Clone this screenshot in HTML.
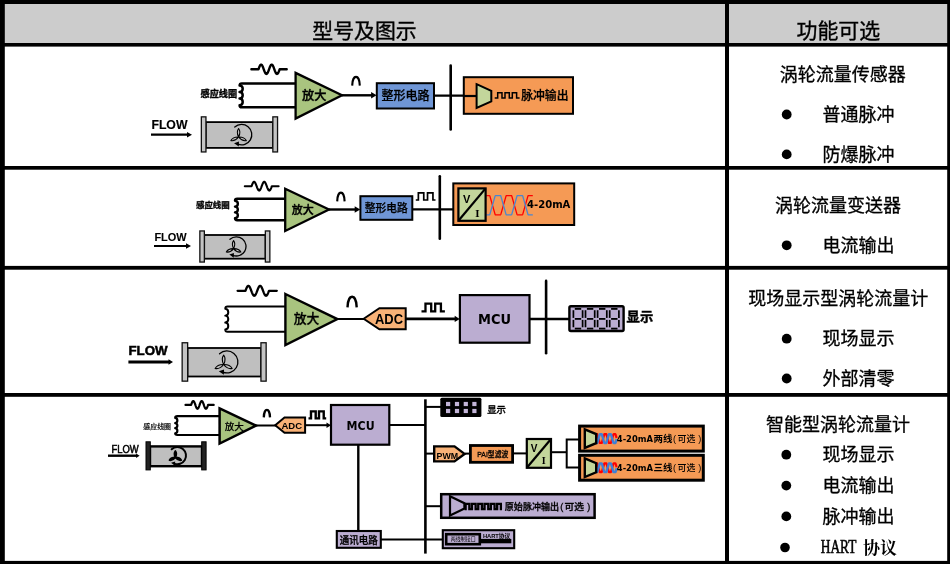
<!DOCTYPE html>
<html lang="zh-CN">
<head>
<meta charset="utf-8">
<title>涡轮流量计 型号及图示</title>
<style>
html,body{margin:0;padding:0;background:#fff;}
body{width:950px;height:564px;overflow:hidden;font-family:"Liberation Sans","Noto Sans CJK SC",sans-serif;}
svg{display:block;will-change:transform;}
</style>
</head>
<body>
<svg width="950" height="564" viewBox="0 0 950 564">
<rect x="0" y="0" width="950" height="564" fill="#fff"/>
<rect x="3" y="3" width="945" height="41" fill="#cccccc"/>
<rect x="0" y="0" width="950" height="4" fill="#000"/>
<rect x="0" y="43" width="950" height="3.6" fill="#000"/>
<rect x="0" y="166" width="950" height="3.7" fill="#000"/>
<rect x="0" y="265.9" width="950" height="3.8" fill="#000"/>
<rect x="0" y="393" width="950" height="3.8" fill="#000"/>
<rect x="0" y="560.9" width="950" height="3.1" fill="#000"/>
<rect x="0" y="0" width="4.8" height="564" fill="#000"/>
<rect x="725" y="0" width="4" height="564" fill="#000"/>
<rect x="947.2" y="0" width="2.8" height="564" fill="#000"/>
<text x="364.5" y="38.2" font-size="20.9" font-weight="normal" text-anchor="middle" font-family='"Liberation Sans","Noto Sans CJK SC",sans-serif' fill="#000" stroke="#000" stroke-width="0.35">型号及图示</text>
<text x="838.3" y="38.2" font-size="20.9" font-weight="normal" text-anchor="middle" font-family='"Liberation Sans","Noto Sans CJK SC",sans-serif' fill="#000" stroke="#000" stroke-width="0.35">功能可选</text>
<text x="842.8" y="81" font-size="18" font-weight="normal" text-anchor="middle" font-family='"Liberation Sans","Noto Sans CJK SC",sans-serif' fill="#000" stroke="#000" stroke-width="0.3">涡轮流量传感器</text>
<circle cx="786.7" cy="114.5" r="4.9" fill="#000"/>
<text x="822.5" y="120.9" font-size="18" font-weight="normal" text-anchor="start" font-family='"Liberation Sans","Noto Sans CJK SC",sans-serif' fill="#000" stroke="#000" stroke-width="0.3">普通脉冲</text>
<circle cx="786.7" cy="154.4" r="4.9" fill="#000"/>
<text x="822.5" y="160.8" font-size="18" font-weight="normal" text-anchor="start" font-family='"Liberation Sans","Noto Sans CJK SC",sans-serif' fill="#000" stroke="#000" stroke-width="0.3">防爆脉冲</text>
<text x="838" y="211.7" font-size="18" font-weight="normal" text-anchor="middle" font-family='"Liberation Sans","Noto Sans CJK SC",sans-serif' fill="#000" stroke="#000" stroke-width="0.3">涡轮流量变送器</text>
<circle cx="786.7" cy="245.3" r="4.9" fill="#000"/>
<text x="822.5" y="251.70000000000002" font-size="18" font-weight="normal" text-anchor="start" font-family='"Liberation Sans","Noto Sans CJK SC",sans-serif' fill="#000" stroke="#000" stroke-width="0.3">电流输出</text>
<text x="838.3" y="305" font-size="18" font-weight="normal" text-anchor="middle" font-family='"Liberation Sans","Noto Sans CJK SC",sans-serif' fill="#000" stroke="#000" stroke-width="0.3">现场显示型涡轮流量计</text>
<circle cx="786.7" cy="338.7" r="4.9" fill="#000"/>
<text x="822.5" y="345.09999999999997" font-size="18" font-weight="normal" text-anchor="start" font-family='"Liberation Sans","Noto Sans CJK SC",sans-serif' fill="#000" stroke="#000" stroke-width="0.3">现场显示</text>
<circle cx="786.7" cy="378.5" r="4.9" fill="#000"/>
<text x="822.5" y="384.9" font-size="18" font-weight="normal" text-anchor="start" font-family='"Liberation Sans","Noto Sans CJK SC",sans-serif' fill="#000" stroke="#000" stroke-width="0.3">外部清零</text>
<text x="838" y="430.7" font-size="18" font-weight="normal" text-anchor="middle" font-family='"Liberation Sans","Noto Sans CJK SC",sans-serif' fill="#000" stroke="#000" stroke-width="0.3">智能型涡轮流量计</text>
<circle cx="786.3" cy="454.7" r="4.9" fill="#000"/>
<text x="822.5" y="461.09999999999997" font-size="18" font-weight="normal" text-anchor="start" font-family='"Liberation Sans","Noto Sans CJK SC",sans-serif' fill="#000" stroke="#000" stroke-width="0.3">现场显示</text>
<circle cx="786.3" cy="485.6" r="4.9" fill="#000"/>
<text x="822.5" y="492.0" font-size="18" font-weight="normal" text-anchor="start" font-family='"Liberation Sans","Noto Sans CJK SC",sans-serif' fill="#000" stroke="#000" stroke-width="0.3">电流输出</text>
<circle cx="786.3" cy="516.4" r="4.9" fill="#000"/>
<text x="822.5" y="522.8" font-size="18" font-weight="normal" text-anchor="start" font-family='"Liberation Sans","Noto Sans CJK SC",sans-serif' fill="#000" stroke="#000" stroke-width="0.3">脉冲输出</text>
<circle cx="785" cy="547.5" r="4.8" fill="#000"/>
<text x="820.8" y="552.9" font-size="18.6" font-family='"Liberation Serif",serif' fill="#000" stroke="#000" stroke-width="0.6" textLength="35.6" lengthAdjust="spacingAndGlyphs">HART</text>
<text x="863" y="553.6" font-size="17.4" font-weight="700" font-family='"Liberation Serif","Noto Serif CJK SC",serif' fill="#000" textLength="34.2" lengthAdjust="spacingAndGlyphs">协议</text>
<path d="M251.4,69.3 L258.46,69.3 L258.99,67.85 L259.52,66.54 L260.05,65.50 L260.58,64.83 L261.11,64.60 L261.64,64.83 L262.17,65.50 L262.70,66.54 L263.23,67.85 L263.75,69.30 L264.28,70.75 L264.81,72.06 L265.34,73.10 L265.87,73.77 L266.40,74.00 L266.93,73.77 L267.46,73.10 L267.99,72.06 L268.52,70.75 L269.05,69.30 L269.58,67.85 L270.11,66.54 L270.64,65.50 L271.17,64.83 L271.70,64.60 L272.23,64.83 L272.76,65.50 L273.29,66.54 L273.82,67.85 L274.34,69.30 L274.87,70.75 L275.40,72.06 L275.93,73.10 L276.46,73.77 L276.99,74.00 L277.52,73.77 L278.05,73.10 L278.58,72.06 L279.11,70.75 L279.64,69.30 L286.7,69.3" fill="none" stroke="#000" stroke-width="2.4" stroke-linejoin="round" stroke-linecap="round"/>
<path d="M296,83.4 L241.79999999999998,83.4 Q239.6,83.4 239.6,85.551 c4.14,0.33 4.14,6.21 0,6.53 c4.14,0.33 4.14,6.21 0,6.53 c4.14,0.33 4.14,6.21 0,6.53 Q239.6,107.3 241.79999999999998,107.3 L296,107.3" fill="none" stroke="#000" stroke-width="2.5" stroke-linejoin="round"/>
<text x="200.6" y="97" font-size="9" font-weight="bold" text-anchor="start" font-family='"Liberation Sans","Noto Sans CJK SC",sans-serif' fill="#000" textLength="36.5" lengthAdjust="spacingAndGlyphs" stroke="#000" stroke-width="0.35">感应线圈</text>
<polygon points="295.6,72.9 342.0,95.3 295.6,118.6" fill="#a9c47f" stroke="#000" stroke-width="2.3" stroke-linejoin="miter"/>
<text x="314.2" y="99.6" font-size="12.2" font-weight="500" text-anchor="middle" font-family='"Liberation Sans","Noto Sans CJK SC",sans-serif' fill="#000" stroke="#000" stroke-width="0.4">放大</text>
<path d="M352.2,85.6 C352.50,73.93 359.50,73.93 359.8,85.6" fill="none" stroke="#000" stroke-width="2.1"/>
<line x1="342" y1="95.3" x2="372.1" y2="95.3" stroke="#000" stroke-width="2.4" />
<polygon points="376.6,95.3 371.1,92.1 371.1,98.5" fill="#000"/>
<line x1="434" y1="95.6" x2="476" y2="95.6" stroke="#000" stroke-width="2.2" />
<rect x="376.8" y="83.2" width="57.2" height="25.3" fill="#6f96d6" stroke="#000" stroke-width="2.0" />
<text x="405.4" y="100.2" font-size="12" font-weight="500" text-anchor="middle" font-family='"Liberation Sans","Noto Sans CJK SC",sans-serif' fill="#000" stroke="#000" stroke-width="0.25">整形电路</text>
<line x1="450.7" y1="65.5" x2="450.7" y2="129.5" stroke="#000" stroke-width="2.6" stroke-linecap="round"/>
<rect x="463.8" y="77.2" width="109.2" height="36.6" fill="#f59a55" stroke="#000" stroke-width="2.0" />
<line x1="463" y1="96" x2="476" y2="96" stroke="#000" stroke-width="2.2" />
<polygon points="476.6,84.2 491.3,90.8 491.3,101.4 476.6,108.0" fill="#c3d69b" stroke="#000" stroke-width="2.0" stroke-linejoin="miter"/>
<path d="M494.7,98.0 L497.69,98.0 L497.69,92.8 L501.99,92.8 L501.99,98.0 L505.00,98.0 L505.00,92.8 L509.30,92.8 L509.30,98.0 L512.31,98.0 L512.31,92.8 L516.61,92.8 L516.61,98.0 L519.6,98.0" fill="none" stroke="#000" stroke-width="1.5" stroke-linejoin="miter"/>
<text x="521.2" y="99.8" font-size="12" font-weight="500" text-anchor="start" font-family='"Liberation Sans","Noto Sans CJK SC",sans-serif' fill="#000" textLength="47.3" lengthAdjust="spacingAndGlyphs" stroke="#000" stroke-width="0.25">脉冲输出</text>
<text x="151.4" y="128.6" font-size="12.2" font-weight="bold" text-anchor="start" font-family='"Liberation Sans",sans-serif' fill="#000" textLength="36.1" lengthAdjust="spacingAndGlyphs" stroke="#000" stroke-width="0.15">FLOW</text>
<line x1="151" y1="134.7" x2="188" y2="134.7" stroke="#000" stroke-width="2.2" />
<polygon points="192,134.7 187,131.89999999999998 187,137.5" fill="#000"/>
<rect x="205.8" y="122.10000000000001" width="67.2" height="25.8" fill="#bfbfbf" stroke="#000" stroke-width="1.8" />
<rect x="201.35" y="116.85000000000001" width="4.6" height="35.1" fill="#c4c4c4" stroke="#111" stroke-width="1.3" />
<rect x="272.84999999999997" y="116.85000000000001" width="4.7" height="35.1" fill="#c4c4c4" stroke="#111" stroke-width="1.3" />
<path d="M234.77,127.02 A10.2,10.2 0 1 1 237.78,144.06" fill="none" stroke="#000" stroke-width="1.3" stroke-linecap="round"/>
<polygon points="234.08,143.22 238.96,141.53 238.79,146.58" fill="#000"/>
<path d="M238.60,137.00 Q241.15,131.90 238.60,128.50 Q236.05,131.90 238.60,137.00Z" fill="#bfbfbf" stroke="#000" stroke-width="1.10" stroke-linejoin="round"/>
<path d="M238.60,137.00 Q242.14,141.47 246.30,140.59 Q244.30,136.84 238.60,137.00Z" fill="#bfbfbf" stroke="#000" stroke-width="1.10" stroke-linejoin="round"/>
<path d="M238.60,137.00 Q232.90,136.84 230.90,140.59 Q235.06,141.47 238.60,137.00Z" fill="#bfbfbf" stroke="#000" stroke-width="1.10" stroke-linejoin="round"/>
<path d="M244.8,186.2 L251.56,186.2 L252.07,184.84 L252.57,183.61 L253.08,182.64 L253.59,182.02 L254.09,181.80 L254.60,182.02 L255.11,182.64 L255.62,183.61 L256.12,184.84 L256.63,186.20 L257.14,187.56 L257.64,188.79 L258.15,189.76 L258.66,190.38 L259.17,190.60 L259.67,190.38 L260.18,189.76 L260.69,188.79 L261.19,187.56 L261.70,186.20 L262.21,184.84 L262.71,183.61 L263.22,182.64 L263.73,182.02 L264.24,181.80 L264.74,182.02 L265.25,182.64 L265.76,183.61 L266.26,184.84 L266.77,186.20 L267.28,187.56 L267.78,188.79 L268.29,189.76 L268.80,190.38 L269.31,190.60 L269.81,190.38 L270.32,189.76 L270.83,188.79 L271.33,187.56 L271.84,186.20 L278.6,186.2" fill="none" stroke="#000" stroke-width="2.1" stroke-linejoin="round" stroke-linecap="round"/>
<path d="M286,198.8 L237.2,198.8 Q235.0,198.8 235.0,200.726 c3.78,0.29 3.78,5.56 0,5.85 c3.78,0.29 3.78,5.56 0,5.85 c3.78,0.29 3.78,5.56 0,5.85 Q235.0,220.2 237.2,220.2 L286,220.2" fill="none" stroke="#000" stroke-width="2.4" stroke-linejoin="round"/>
<text x="196" y="208.2" font-size="8.5" font-weight="bold" text-anchor="start" font-family='"Liberation Sans","Noto Sans CJK SC",sans-serif' fill="#000" textLength="33.7" lengthAdjust="spacingAndGlyphs" stroke="#000" stroke-width="0.3">感应线圈</text>
<polygon points="285.2,188.7 329.0,209.5 285.2,231.0" fill="#a9c47f" stroke="#000" stroke-width="2.3" stroke-linejoin="miter"/>
<text x="302.8" y="213.9" font-size="11" font-weight="500" text-anchor="middle" font-family='"Liberation Sans","Noto Sans CJK SC",sans-serif' fill="#000" stroke="#000" stroke-width="0.4">放大</text>
<path d="M337.2,201.4 C337.50,189.73 344.30,189.73 344.59999999999997,201.4" fill="none" stroke="#000" stroke-width="2.1"/>
<line x1="329" y1="209.5" x2="355.7" y2="209.5" stroke="#000" stroke-width="2.4" />
<polygon points="360.2,209.5 354.7,206.3 354.7,212.7" fill="#000"/>
<line x1="412" y1="209.3" x2="453" y2="209.3" stroke="#000" stroke-width="2.3" />
<rect x="360.4" y="196.2" width="51.9" height="23.6" fill="#6f96d6" stroke="#000" stroke-width="2.0" />
<text x="386.3" y="212.2" font-size="10.9" font-weight="500" text-anchor="middle" font-family='"Liberation Sans","Noto Sans CJK SC",sans-serif' fill="#000" textLength="43" lengthAdjust="spacingAndGlyphs" stroke="#000" stroke-width="0.25">整形电路</text>
<path d="M415.8,200 L418.36,200 L418.36,192.8 L423.76,192.8 L423.76,200 L427.54,200 L427.54,192.8 L432.94,192.8 L432.94,200 L435.5,200" fill="none" stroke="#000" stroke-width="1.7" stroke-linejoin="miter"/>
<line x1="439.8" y1="176.2" x2="439.8" y2="238.8" stroke="#000" stroke-width="2.6" stroke-linecap="round"/>
<rect x="453.3" y="183.4" width="120.9" height="41.6" fill="#f59a55" stroke="#000" stroke-width="2.0" />
<path d="M486.30,195.60 L486.55,195.60 L486.80,195.60 L487.05,195.60 L487.31,195.60 L487.56,195.60 L487.81,195.60 L488.06,195.60 L488.31,195.60 L488.56,195.60 L488.81,195.60 L489.06,195.60 L489.32,195.60 L489.57,195.60 L489.82,195.89 L490.07,196.77 L490.32,197.65 L490.57,198.53 L490.82,199.41 L491.08,200.29 L491.33,201.17 L491.58,202.06 L491.83,202.94 L492.08,203.82 L492.33,204.70 L492.58,205.58 L492.84,206.46 L493.09,207.34 L493.34,208.23 L493.59,209.11 L493.84,209.99 L494.09,210.87 L494.34,211.75 L494.59,212.63 L494.85,213.51 L495.10,214.40 L495.35,214.80 L495.60,214.80 L495.85,214.80 L496.10,214.80 L496.35,214.80 L496.61,214.80 L496.86,214.80 L497.11,214.80 L497.36,214.80 L497.61,214.80 L497.86,214.80 L498.11,214.80 L498.36,214.80 L498.62,214.80 L498.87,214.80 L499.12,214.80 L499.37,214.80 L499.62,214.80 L499.87,214.80 L500.12,214.80 L500.38,214.80 L500.63,214.80 L500.88,214.13 L501.13,213.25 L501.38,212.37 L501.63,211.49 L501.88,210.60 L502.14,209.72 L502.39,208.84 L502.64,207.96 L502.89,207.08 L503.14,206.20 L503.39,205.32 L503.64,204.43 L503.89,203.55 L504.15,202.67 L504.40,201.79 L504.65,200.91 L504.90,200.03 L505.15,199.15 L505.40,198.26 L505.65,197.38 L505.91,196.50 L506.16,195.62 L506.41,195.60 L506.66,195.60 L506.91,195.60 L507.16,195.60 L507.41,195.60 L507.66,195.60 L507.92,195.60 L508.17,195.60 L508.42,195.60 L508.67,195.60 L508.92,195.60 L509.17,195.60 L509.42,195.60 L509.68,195.60 L509.93,195.60 L510.18,195.60 L510.43,195.60 L510.68,195.60 L510.93,195.60 L511.18,195.60 L511.44,195.60 L511.69,195.77 L511.94,196.65 L512.19,197.53 L512.44,198.42 L512.69,199.30 L512.94,200.18 L513.19,201.06 L513.45,201.94 L513.70,202.82 L513.95,203.70 L514.20,204.59 L514.45,205.47 L514.70,206.35 L514.95,207.23 L515.21,208.11 L515.46,208.99 L515.71,209.88 L515.96,210.76 L516.21,211.64 L516.46,212.52 L516.71,213.40 L516.96,214.28 L517.22,214.80 L517.47,214.80 L517.72,214.80 L517.97,214.80 L518.22,214.80 L518.47,214.80 L518.72,214.80 L518.98,214.80 L519.23,214.80 L519.48,214.80 L519.73,214.80 L519.98,214.80 L520.23,214.80 L520.48,214.80 L520.74,214.80 L520.99,214.80 L521.24,214.80 L521.49,214.80 L521.74,214.80 L521.99,214.80 L522.24,214.80 L522.49,214.80 L522.75,214.24 L523.00,213.36 L523.25,212.48 L523.50,211.60 L523.75,210.72 L524.00,209.84 L524.25,208.96 L524.51,208.07 L524.76,207.19 L525.01,206.31 L525.26,205.43 L525.51,204.55 L525.76,203.67 L526.01,202.79 L526.26,201.90 L526.52,201.02 L526.77,200.14 L527.02,199.26 L527.27,198.38 L527.52,197.50 L527.77,196.62 L528.02,195.73 L528.28,195.60 L528.53,195.60 L528.78,195.60 L529.03,195.60 L529.28,195.60 L529.53,195.60 L529.78,195.60 L530.04,195.60 L530.29,195.60 L530.54,195.60 L530.79,195.60 L531.04,195.60 L531.29,195.60 L531.54,195.60 L531.79,195.60 L532.05,195.60 L532.30,195.60 L532.55,195.60 L532.80,195.60" fill="none" stroke="#ff0000" stroke-width="1.3" stroke-linejoin="round"/>
<path d="M486.30,214.80 L486.55,214.80 L486.80,214.80 L487.05,214.80 L487.31,214.80 L487.56,214.80 L487.81,214.80 L488.06,214.80 L488.31,214.80 L488.56,214.80 L488.81,214.80 L489.06,214.80 L489.32,214.80 L489.57,214.80 L489.82,214.51 L490.07,213.63 L490.32,212.75 L490.57,211.87 L490.82,210.99 L491.08,210.11 L491.33,209.23 L491.58,208.34 L491.83,207.46 L492.08,206.58 L492.33,205.70 L492.58,204.82 L492.84,203.94 L493.09,203.06 L493.34,202.17 L493.59,201.29 L493.84,200.41 L494.09,199.53 L494.34,198.65 L494.59,197.77 L494.85,196.89 L495.10,196.00 L495.35,195.60 L495.60,195.60 L495.85,195.60 L496.10,195.60 L496.35,195.60 L496.61,195.60 L496.86,195.60 L497.11,195.60 L497.36,195.60 L497.61,195.60 L497.86,195.60 L498.11,195.60 L498.36,195.60 L498.62,195.60 L498.87,195.60 L499.12,195.60 L499.37,195.60 L499.62,195.60 L499.87,195.60 L500.12,195.60 L500.38,195.60 L500.63,195.60 L500.88,196.27 L501.13,197.15 L501.38,198.03 L501.63,198.91 L501.88,199.80 L502.14,200.68 L502.39,201.56 L502.64,202.44 L502.89,203.32 L503.14,204.20 L503.39,205.08 L503.64,205.97 L503.89,206.85 L504.15,207.73 L504.40,208.61 L504.65,209.49 L504.90,210.37 L505.15,211.25 L505.40,212.14 L505.65,213.02 L505.91,213.90 L506.16,214.78 L506.41,214.80 L506.66,214.80 L506.91,214.80 L507.16,214.80 L507.41,214.80 L507.66,214.80 L507.92,214.80 L508.17,214.80 L508.42,214.80 L508.67,214.80 L508.92,214.80 L509.17,214.80 L509.42,214.80 L509.68,214.80 L509.93,214.80 L510.18,214.80 L510.43,214.80 L510.68,214.80 L510.93,214.80 L511.18,214.80 L511.44,214.80 L511.69,214.63 L511.94,213.75 L512.19,212.87 L512.44,211.98 L512.69,211.10 L512.94,210.22 L513.19,209.34 L513.45,208.46 L513.70,207.58 L513.95,206.70 L514.20,205.81 L514.45,204.93 L514.70,204.05 L514.95,203.17 L515.21,202.29 L515.46,201.41 L515.71,200.52 L515.96,199.64 L516.21,198.76 L516.46,197.88 L516.71,197.00 L516.96,196.12 L517.22,195.60 L517.47,195.60 L517.72,195.60 L517.97,195.60 L518.22,195.60 L518.47,195.60 L518.72,195.60 L518.98,195.60 L519.23,195.60 L519.48,195.60 L519.73,195.60 L519.98,195.60 L520.23,195.60 L520.48,195.60 L520.74,195.60 L520.99,195.60 L521.24,195.60 L521.49,195.60 L521.74,195.60 L521.99,195.60 L522.24,195.60 L522.49,195.60 L522.75,196.16 L523.00,197.04 L523.25,197.92 L523.50,198.80 L523.75,199.68 L524.00,200.56 L524.25,201.44 L524.51,202.33 L524.76,203.21 L525.01,204.09 L525.26,204.97 L525.51,205.85 L525.76,206.73 L526.01,207.61 L526.26,208.50 L526.52,209.38 L526.77,210.26 L527.02,211.14 L527.27,212.02 L527.52,212.90 L527.77,213.78 L528.02,214.67 L528.28,214.80 L528.53,214.80 L528.78,214.80 L529.03,214.80 L529.28,214.80 L529.53,214.80 L529.78,214.80 L530.04,214.80 L530.29,214.80 L530.54,214.80 L530.79,214.80 L531.04,214.80 L531.29,214.80 L531.54,214.80 L531.79,214.80 L532.05,214.80 L532.30,214.80 L532.55,214.80 L532.80,214.80" fill="none" stroke="#4a86d0" stroke-width="1.3" stroke-linejoin="round"/>
<rect x="458.4" y="188.4" width="27.2" height="32.4" fill="#c3d69b" stroke="#000" stroke-width="2.2" />
<line x1="458.4" y1="220.8" x2="485.6" y2="188.4" stroke="#000" stroke-width="2.2" />
<text x="466.56" y="202.656" font-size="11" font-weight="bold" text-anchor="middle" font-family='"Liberation Sans",sans-serif' fill="#000" >V</text>
<text x="477.44" y="216.912" font-size="11" font-weight="bold" text-anchor="middle" font-family='"Liberation Serif",serif' fill="#000" >I</text>
<text x="527" y="207.6" font-size="10.4" font-weight="bold" text-anchor="start" font-family='"DejaVu Sans","Liberation Sans",sans-serif' fill="#000" textLength="43.4" lengthAdjust="spacingAndGlyphs">4-20mA</text>
<text x="154.4" y="241.2" font-size="11.4" font-weight="bold" text-anchor="start" font-family='"Liberation Sans",sans-serif' fill="#000" textLength="32.3" lengthAdjust="spacingAndGlyphs" stroke="#000" stroke-width="0.1">FLOW</text>
<line x1="154" y1="246" x2="187" y2="246" stroke="#000" stroke-width="2.0" />
<polygon points="191,246 186,243.2 186,248.8" fill="#000"/>
<rect x="204.2" y="235.0" width="61.3" height="23.7" fill="#bfbfbf" stroke="#000" stroke-width="1.8" />
<rect x="199.85" y="230.95000000000002" width="4.5" height="31.1" fill="#c4c4c4" stroke="#111" stroke-width="1.3" />
<rect x="265.34999999999997" y="230.95000000000002" width="4.5" height="31.1" fill="#c4c4c4" stroke="#111" stroke-width="1.3" />
<path d="M229.98,239.27 A9.6,9.6 0 1 1 232.80,255.30" fill="none" stroke="#000" stroke-width="1.3" stroke-linecap="round"/>
<polygon points="229.32,254.51 233.91,252.92 233.75,257.68" fill="#000"/>
<path d="M233.58,248.66 Q235.98,243.86 233.58,240.66 Q231.18,243.86 233.58,248.66Z" fill="#bfbfbf" stroke="#000" stroke-width="1.10" stroke-linejoin="round"/>
<path d="M233.58,248.66 Q236.91,252.86 240.83,252.04 Q238.94,248.51 233.58,248.66Z" fill="#bfbfbf" stroke="#000" stroke-width="1.10" stroke-linejoin="round"/>
<path d="M233.58,248.66 Q228.21,248.51 226.33,252.04 Q230.24,252.86 233.58,248.66Z" fill="#bfbfbf" stroke="#000" stroke-width="1.10" stroke-linejoin="round"/>
<path d="M237.6,290.8 L245.44,290.8 L246.03,289.25 L246.62,287.86 L247.20,286.75 L247.79,286.04 L248.38,285.80 L248.97,286.04 L249.56,286.75 L250.14,287.86 L250.73,289.25 L251.32,290.80 L251.91,292.35 L252.50,293.74 L253.08,294.85 L253.67,295.56 L254.26,295.80 L254.85,295.56 L255.44,294.85 L256.02,293.74 L256.61,292.35 L257.20,290.80 L257.79,289.25 L258.38,287.86 L258.96,286.75 L259.55,286.04 L260.14,285.80 L260.73,286.04 L261.32,286.75 L261.90,287.86 L262.49,289.25 L263.08,290.80 L263.67,292.35 L264.26,293.74 L264.84,294.85 L265.43,295.56 L266.02,295.80 L266.61,295.56 L267.20,294.85 L267.78,293.74 L268.37,292.35 L268.96,290.80 L276.8,290.8" fill="none" stroke="#000" stroke-width="2.3" stroke-linejoin="round" stroke-linecap="round"/>
<path d="M286,306.4 L227.5,306.4 Q225.3,306.4 225.3,308.686 c3.96,0.35 3.96,6.60 0,6.94 c3.96,0.35 3.96,6.60 0,6.94 c3.96,0.35 3.96,6.60 0,6.94 Q225.3,331.8 227.5,331.8 L286,331.8" fill="none" stroke="#000" stroke-width="2.0" stroke-linejoin="round"/>
<polygon points="285.4,294.0 337.4,319.1 285.4,345.0" fill="#a9c47f" stroke="#000" stroke-width="2.4" stroke-linejoin="miter"/>
<text x="306.5" y="323.4" font-size="12.8" font-weight="500" text-anchor="middle" font-family='"Liberation Sans","Noto Sans CJK SC",sans-serif' fill="#000" stroke="#000" stroke-width="0.3">放大</text>
<path d="M347.5,307.4 C347.87,293.27 356.33,293.27 356.70000000000005,307.4" fill="none" stroke="#000" stroke-width="2.4"/>
<line x1="337" y1="319" x2="364" y2="319" stroke="#000" stroke-width="2.0" />
<polygon points="363.7,318.75 379.4,308.2 405.7,308.2 405.7,329.3 379.4,329.3" fill="#f9b277" stroke="#000" stroke-width="2.0" stroke-linejoin="miter"/>
<text x="389" y="323.5" font-size="14.2" font-weight="bold" text-anchor="middle" font-family='"Liberation Sans",sans-serif' fill="#000" textLength="28" lengthAdjust="spacingAndGlyphs">ADC</text>
<path d="M421.5,311.3 L425.48,311.3 L425.48,303.6 L431.20,303.6 L431.20,311.3 L435.20,311.3 L435.20,303.6 L440.92,303.6 L440.92,311.3 L444.9,311.3" fill="none" stroke="#000" stroke-width="2.3" stroke-linejoin="miter"/>
<line x1="406" y1="318.9" x2="455.7" y2="318.9" stroke="#000" stroke-width="2.6" />
<polygon points="459.7,318.9 454.7,315.7 454.7,322.09999999999997" fill="#000"/>
<line x1="529" y1="319" x2="569" y2="319" stroke="#000" stroke-width="2.3" />
<rect x="459.9" y="295.1" width="69.6" height="47.6" fill="#bbadd1" stroke="#000" stroke-width="2.2" />
<text x="494.5" y="323.5" font-size="14" font-weight="bold" text-anchor="middle" font-family='"DejaVu Sans","Liberation Sans",sans-serif' fill="#000" textLength="33" lengthAdjust="spacingAndGlyphs">MCU</text>
<line x1="546.1" y1="280.9" x2="546.1" y2="353.3" stroke="#000" stroke-width="2.6" stroke-linecap="round"/>
<rect x="569.4" y="306.2" width="54.2" height="24.8" fill="#bbadd1" stroke="#000" stroke-width="2.4" rx="1.5"/>
<line x1="574.8" y1="308.9" x2="581.2" y2="308.9" stroke="#000" stroke-width="1.8" />
<line x1="574.8" y1="318.9" x2="581.2" y2="318.9" stroke="#000" stroke-width="1.8" />
<line x1="574.8" y1="328.6" x2="581.2" y2="328.6" stroke="#000" stroke-width="1.8" />
<line x1="573.4" y1="310.2" x2="573.4" y2="317.9" stroke="#000" stroke-width="1.7" />
<line x1="573.4" y1="319.9" x2="573.4" y2="327.3" stroke="#000" stroke-width="1.7" />
<line x1="582.6" y1="310.2" x2="582.6" y2="317.9" stroke="#000" stroke-width="1.7" />
<line x1="582.6" y1="319.9" x2="582.6" y2="327.3" stroke="#000" stroke-width="1.7" />
<line x1="586.9" y1="308.9" x2="593.3000000000001" y2="308.9" stroke="#000" stroke-width="1.8" />
<line x1="586.9" y1="318.9" x2="593.3000000000001" y2="318.9" stroke="#000" stroke-width="1.8" />
<line x1="586.9" y1="328.6" x2="593.3000000000001" y2="328.6" stroke="#000" stroke-width="1.8" />
<line x1="585.5" y1="310.2" x2="585.5" y2="317.9" stroke="#000" stroke-width="1.7" />
<line x1="585.5" y1="319.9" x2="585.5" y2="327.3" stroke="#000" stroke-width="1.7" />
<line x1="594.7" y1="310.2" x2="594.7" y2="317.9" stroke="#000" stroke-width="1.7" />
<line x1="594.7" y1="319.9" x2="594.7" y2="327.3" stroke="#000" stroke-width="1.7" />
<line x1="599.0" y1="308.9" x2="605.4000000000001" y2="308.9" stroke="#000" stroke-width="1.8" />
<line x1="599.0" y1="318.9" x2="605.4000000000001" y2="318.9" stroke="#000" stroke-width="1.8" />
<line x1="599.0" y1="328.6" x2="605.4000000000001" y2="328.6" stroke="#000" stroke-width="1.8" />
<line x1="597.6" y1="310.2" x2="597.6" y2="317.9" stroke="#000" stroke-width="1.7" />
<line x1="597.6" y1="319.9" x2="597.6" y2="327.3" stroke="#000" stroke-width="1.7" />
<line x1="606.8000000000001" y1="310.2" x2="606.8000000000001" y2="317.9" stroke="#000" stroke-width="1.7" />
<line x1="606.8000000000001" y1="319.9" x2="606.8000000000001" y2="327.3" stroke="#000" stroke-width="1.7" />
<line x1="611.0999999999999" y1="308.9" x2="617.5" y2="308.9" stroke="#000" stroke-width="1.8" />
<line x1="611.0999999999999" y1="318.9" x2="617.5" y2="318.9" stroke="#000" stroke-width="1.8" />
<line x1="611.0999999999999" y1="328.6" x2="617.5" y2="328.6" stroke="#000" stroke-width="1.8" />
<line x1="609.6999999999999" y1="310.2" x2="609.6999999999999" y2="317.9" stroke="#000" stroke-width="1.7" />
<line x1="609.6999999999999" y1="319.9" x2="609.6999999999999" y2="327.3" stroke="#000" stroke-width="1.7" />
<line x1="618.9" y1="310.2" x2="618.9" y2="317.9" stroke="#000" stroke-width="1.7" />
<line x1="618.9" y1="319.9" x2="618.9" y2="327.3" stroke="#000" stroke-width="1.7" />
<text x="626.6" y="321" font-size="13" font-weight="bold" text-anchor="start" font-family='"Liberation Sans","Noto Sans CJK SC",sans-serif' fill="#000" textLength="26.6" lengthAdjust="spacingAndGlyphs" stroke="#000" stroke-width="0.4">显示</text>
<text x="128.4" y="355.4" font-size="13.2" font-weight="bold" text-anchor="start" font-family='"Liberation Sans",sans-serif' fill="#000" textLength="39.2" lengthAdjust="spacingAndGlyphs" stroke="#000" stroke-width="0.5">FLOW</text>
<line x1="128.4" y1="362" x2="169.5" y2="362" stroke="#000" stroke-width="3.0" />
<polygon points="173,362 168.5,359.2 168.5,364.8" fill="#000"/>
<rect x="187.5" y="348.0" width="73.6" height="28.5" fill="#bfbfbf" stroke="#000" stroke-width="1.8" />
<rect x="182.15" y="342.75" width="5.5" height="38.4" fill="#c4c4c4" stroke="#111" stroke-width="1.3" />
<rect x="260.95" y="342.75" width="5.2" height="38.4" fill="#c4c4c4" stroke="#111" stroke-width="1.3" />
<path d="M219.54,353.73 A11,11 0 1 1 222.78,372.10" fill="none" stroke="#000" stroke-width="1.3" stroke-linecap="round"/>
<polygon points="218.79,371.19 224.05,369.38 223.87,374.82" fill="#000"/>
<path d="M223.66,364.49 Q226.48,358.85 223.66,355.09 Q220.84,358.85 223.66,364.49Z" fill="#bfbfbf" stroke="#000" stroke-width="1.10" stroke-linejoin="round"/>
<path d="M223.66,364.49 Q227.58,369.43 232.18,368.46 Q229.97,364.32 223.66,364.49Z" fill="#bfbfbf" stroke="#000" stroke-width="1.10" stroke-linejoin="round"/>
<path d="M223.66,364.49 Q217.36,364.32 215.15,368.46 Q219.74,369.43 223.66,364.49Z" fill="#bfbfbf" stroke="#000" stroke-width="1.10" stroke-linejoin="round"/>
<path d="M185.5,404.9 L191.14,404.9 L191.56,403.69 L191.99,402.61 L192.41,401.74 L192.83,401.19 L193.25,401.00 L193.68,401.19 L194.10,401.74 L194.52,402.61 L194.95,403.69 L195.37,404.90 L195.79,406.11 L196.22,407.19 L196.64,408.06 L197.06,408.61 L197.48,408.80 L197.91,408.61 L198.33,408.06 L198.75,407.19 L199.18,406.11 L199.60,404.90 L200.02,403.69 L200.45,402.61 L200.87,401.74 L201.29,401.19 L201.72,401.00 L202.14,401.19 L202.56,401.74 L202.98,402.61 L203.41,403.69 L203.83,404.90 L204.25,406.11 L204.68,407.19 L205.10,408.06 L205.52,408.61 L205.94,408.80 L206.37,408.61 L206.79,408.06 L207.21,407.19 L207.64,406.11 L208.06,404.90 L213.7,404.9" fill="none" stroke="#000" stroke-width="2.2" stroke-linejoin="round" stroke-linecap="round"/>
<path d="M220,416.2 L177.39999999999998,416.2 Q175.2,416.2 175.2,417.892 c2.88,0.26 2.88,4.88 0,5.14 c2.88,0.26 2.88,4.88 0,5.14 c2.88,0.26 2.88,4.88 0,5.14 Q175.2,435.0 177.39999999999998,435.0 L220,435.0" fill="none" stroke="#000" stroke-width="2.2" stroke-linejoin="round"/>
<text x="143.3" y="429.3" font-size="7.2" font-weight="normal" text-anchor="start" font-family='"Liberation Sans","Noto Sans CJK SC",sans-serif' fill="#000" textLength="27.7" lengthAdjust="spacingAndGlyphs" stroke="#000" stroke-width="0.2">感应线圈</text>
<polygon points="219.6,408.4 256.0,425.6 219.6,443.6" fill="#a9c47f" stroke="#000" stroke-width="2.5" stroke-linejoin="miter"/>
<text x="234.2" y="430" font-size="9.5" font-weight="500" text-anchor="middle" font-family='"Liberation Sans","Noto Sans CJK SC",sans-serif' fill="#000" stroke="#000" stroke-width="0.2">放大</text>
<path d="M263.79999999999995,417.4 C264.05,407.47 269.75,407.47 270.0,417.4" fill="none" stroke="#000" stroke-width="2.3"/>
<line x1="256" y1="425.5" x2="276" y2="425.5" stroke="#000" stroke-width="2.0" />
<polygon points="275.2,425.15 284.5,417.5 305.1,417.5 305.1,432.8 284.5,432.8" fill="#f9b277" stroke="#000" stroke-width="2.0" stroke-linejoin="miter"/>
<text x="291.8" y="429.1" font-size="9.5" font-weight="bold" text-anchor="middle" font-family='"Liberation Sans",sans-serif' fill="#000" >ADC</text>
<path d="M308.5,418.4 L310.98,418.4 L310.98,411.4 L315.70,411.4 L315.70,418.4 L319.00,418.4 L319.00,411.4 L323.72,411.4 L323.72,418.4 L326.2,418.4" fill="none" stroke="#000" stroke-width="2.4" stroke-linejoin="miter"/>
<line x1="305" y1="425.2" x2="327.5" y2="425.2" stroke="#000" stroke-width="2.0" />
<polygon points="331,425.2 326.5,422.4 326.5,428.0" fill="#000"/>
<line x1="389" y1="425" x2="425" y2="425" stroke="#000" stroke-width="2.2" />
<line x1="358.3" y1="444" x2="358.3" y2="531.5" stroke="#000" stroke-width="2.4" />
<rect x="331.0" y="405.0" width="58.3" height="39.7" fill="#bbadd1" stroke="#000" stroke-width="2.2" />
<text x="360.6" y="429.8" font-size="11.5" font-weight="bold" text-anchor="middle" font-family='"DejaVu Sans","Liberation Sans",sans-serif' fill="#000" textLength="28" lengthAdjust="spacingAndGlyphs">MCU</text>
<line x1="425.4" y1="399.3" x2="425.4" y2="553.6" stroke="#000" stroke-width="2.6" />
<line x1="425" y1="406.9" x2="441" y2="406.9" stroke="#000" stroke-width="2.0" />
<rect x="440.3" y="397.7" width="41.1" height="19.3" fill="#000" stroke="#000" stroke-width="0" rx="1.5"/>
<rect x="446.0" y="401.9" width="4.2" height="4.2" fill="#c3b5d8" stroke="#000" stroke-width="0" />
<rect x="446.0" y="408.9" width="4.2" height="4.2" fill="#c3b5d8" stroke="#000" stroke-width="0" />
<rect x="454.9" y="401.9" width="4.2" height="4.2" fill="#c3b5d8" stroke="#000" stroke-width="0" />
<rect x="454.9" y="408.9" width="4.2" height="4.2" fill="#c3b5d8" stroke="#000" stroke-width="0" />
<rect x="463.7" y="401.9" width="4.2" height="4.2" fill="#c3b5d8" stroke="#000" stroke-width="0" />
<rect x="463.7" y="408.9" width="4.2" height="4.2" fill="#c3b5d8" stroke="#000" stroke-width="0" />
<rect x="472.29999999999995" y="401.9" width="4.2" height="4.2" fill="#c3b5d8" stroke="#000" stroke-width="0" />
<rect x="472.29999999999995" y="408.9" width="4.2" height="4.2" fill="#c3b5d8" stroke="#000" stroke-width="0" />
<text x="487.2" y="412.5" font-size="9.4" font-weight="500" text-anchor="start" font-family='"Liberation Sans","Noto Sans CJK SC",sans-serif' fill="#000" stroke="#000" stroke-width="0.3">显示</text>
<line x1="425" y1="453.6" x2="434" y2="453.6" stroke="#000" stroke-width="2.0" />
<line x1="465" y1="453.6" x2="470" y2="453.6" stroke="#000" stroke-width="2.0" />
<polygon points="434.2,446.4 454.5,446.4 464.6,453.9 454.5,461.4 434.2,461.4" fill="#f9b277" stroke="#000" stroke-width="2.4" stroke-linejoin="miter"/>
<text x="436.6" y="459.0" font-size="9.4" font-weight="bold" text-anchor="start" font-family='"Liberation Sans",sans-serif' fill="#000" textLength="21.6" lengthAdjust="spacingAndGlyphs">PWM</text>
<rect x="470.4" y="445.5" width="42.2" height="16.8" fill="#f59a55" stroke="#000" stroke-width="2.8" />
<text x="492.8" y="457" font-size="7.5" font-weight="normal" text-anchor="middle" font-family='"Liberation Sans","Noto Sans CJK SC",sans-serif' fill="#000" textLength="31" lengthAdjust="spacingAndGlyphs" stroke="#000" stroke-width="0.3">PAI型滤波</text>
<line x1="513" y1="453.4" x2="527" y2="453.4" stroke="#000" stroke-width="2.0" />
<rect x="526.8" y="439.0" width="24.2" height="28.8" fill="#c3d69b" stroke="#000" stroke-width="2.2" />
<line x1="526.8" y1="467.8" x2="551.0" y2="439.0" stroke="#000" stroke-width="2.2" />
<text x="534.06" y="451.672" font-size="10" font-weight="bold" text-anchor="middle" font-family='"Liberation Sans",sans-serif' fill="#000" >V</text>
<text x="543.74" y="464.344" font-size="10" font-weight="bold" text-anchor="middle" font-family='"Liberation Serif",serif' fill="#000" >I</text>
<line x1="551" y1="452.2" x2="566.7" y2="452.2" stroke="#000" stroke-width="2.0" />
<path d="M579,439.4 L566.7,439.4 L566.7,467.4 L579,467.4" fill="none" stroke="#000" stroke-width="2.0"/>
<rect x="579.6" y="426.1" width="123.7" height="25.0" fill="#f59a55" stroke="#000" stroke-width="3.0" />
<path d="M596.50,434.20 L596.70,434.20 L596.90,434.20 L597.10,434.20 L597.30,434.51 L597.50,435.21 L597.71,435.90 L597.91,436.60 L598.11,437.30 L598.31,437.99 L598.51,438.69 L598.71,439.39 L598.91,440.08 L599.11,440.78 L599.31,441.48 L599.51,442.17 L599.72,442.87 L599.92,443.00 L600.12,443.00 L600.32,443.00 L600.52,443.00 L600.72,443.00 L600.92,443.00 L601.12,443.00 L601.32,443.00 L601.52,443.00 L601.73,443.00 L601.93,442.50 L602.13,441.80 L602.33,441.11 L602.53,440.41 L602.73,439.71 L602.93,439.02 L603.13,438.32 L603.33,437.62 L603.53,436.93 L603.74,436.23 L603.94,435.53 L604.14,434.84 L604.34,434.20 L604.54,434.20 L604.74,434.20 L604.94,434.20 L605.14,434.20 L605.34,434.20 L605.54,434.20 L605.75,434.20 L605.95,434.20 L606.15,434.20 L606.35,434.20 L606.55,434.89 L606.75,435.59 L606.95,436.28 L607.15,436.98 L607.35,437.68 L607.56,438.37 L607.76,439.07 L607.96,439.77 L608.16,440.46 L608.36,441.16 L608.56,441.86 L608.76,442.55 L608.96,443.00 L609.16,443.00 L609.36,443.00 L609.57,443.00 L609.77,443.00 L609.97,443.00 L610.17,443.00 L610.37,443.00 L610.57,443.00 L610.77,443.00 L610.97,442.82 L611.17,442.12 L611.37,441.42 L611.58,440.73 L611.78,440.03 L611.98,439.33 L612.18,438.64 L612.38,437.94 L612.58,437.24 L612.78,436.55 L612.98,435.85 L613.18,435.15 L613.38,434.46 L613.59,434.20 L613.79,434.20 L613.99,434.20 L614.19,434.20 L614.39,434.20 L614.59,434.20 L614.79,434.20 L614.99,434.20 L615.19,434.20 L615.39,434.20 L615.60,434.57 L615.80,435.27 L616.00,435.97 L616.20,436.66 L616.40,437.36 L616.60,438.06" fill="none" stroke="#ff0000" stroke-width="2.2" stroke-linejoin="round"/>
<path d="M596.50,443.00 L596.70,443.00 L596.90,443.00 L597.10,443.00 L597.30,442.69 L597.50,441.99 L597.71,441.30 L597.91,440.60 L598.11,439.90 L598.31,439.21 L598.51,438.51 L598.71,437.81 L598.91,437.12 L599.11,436.42 L599.31,435.72 L599.51,435.03 L599.72,434.33 L599.92,434.20 L600.12,434.20 L600.32,434.20 L600.52,434.20 L600.72,434.20 L600.92,434.20 L601.12,434.20 L601.32,434.20 L601.52,434.20 L601.73,434.20 L601.93,434.70 L602.13,435.40 L602.33,436.09 L602.53,436.79 L602.73,437.49 L602.93,438.18 L603.13,438.88 L603.33,439.58 L603.53,440.27 L603.74,440.97 L603.94,441.67 L604.14,442.36 L604.34,443.00 L604.54,443.00 L604.74,443.00 L604.94,443.00 L605.14,443.00 L605.34,443.00 L605.54,443.00 L605.75,443.00 L605.95,443.00 L606.15,443.00 L606.35,443.00 L606.55,442.31 L606.75,441.61 L606.95,440.92 L607.15,440.22 L607.35,439.52 L607.56,438.83 L607.76,438.13 L607.96,437.43 L608.16,436.74 L608.36,436.04 L608.56,435.34 L608.76,434.65 L608.96,434.20 L609.16,434.20 L609.36,434.20 L609.57,434.20 L609.77,434.20 L609.97,434.20 L610.17,434.20 L610.37,434.20 L610.57,434.20 L610.77,434.20 L610.97,434.38 L611.17,435.08 L611.37,435.78 L611.58,436.47 L611.78,437.17 L611.98,437.87 L612.18,438.56 L612.38,439.26 L612.58,439.96 L612.78,440.65 L612.98,441.35 L613.18,442.05 L613.38,442.74 L613.59,443.00 L613.79,443.00 L613.99,443.00 L614.19,443.00 L614.39,443.00 L614.59,443.00 L614.79,443.00 L614.99,443.00 L615.19,443.00 L615.39,443.00 L615.60,442.63 L615.80,441.93 L616.00,441.23 L616.20,440.54 L616.40,439.84 L616.60,439.14" fill="none" stroke="#3f7fd6" stroke-width="2.4" stroke-linejoin="round"/>
<polygon points="584.8,429.3 596.2,434.1 596.2,443.1 584.8,447.90000000000003" fill="#c3d69b" stroke="#000" stroke-width="2.4" stroke-linejoin="miter"/>
<text y="442.3" font-weight="bold" fill="#000"><tspan x="616.8" font-size="9.3" font-family='"DejaVu Sans","Liberation Sans",sans-serif' textLength="36.2" lengthAdjust="spacingAndGlyphs">4-20mA</tspan><tspan x="653.4" font-size="9.6" font-family='"Liberation Sans","Noto Sans CJK SC",sans-serif' textLength="19" lengthAdjust="spacingAndGlyphs">两线</tspan><tspan x="673.0" font-size="9.2" font-weight="normal" font-family='"Liberation Sans","Noto Sans CJK SC",sans-serif'>(</tspan><tspan x="677.6" font-size="9.2" font-weight="500" font-family='"Liberation Sans","Noto Sans CJK SC",sans-serif' textLength="17.8" lengthAdjust="spacingAndGlyphs">可选</tspan><tspan x="698.2" font-size="9.2" font-weight="normal" font-family='"Liberation Sans","Noto Sans CJK SC",sans-serif'>)</tspan></text>
<rect x="579.6" y="455.3" width="123.7" height="24.9" fill="#f59a55" stroke="#000" stroke-width="3.0" />
<path d="M596.50,463.35 L596.70,463.35 L596.90,463.35 L597.10,463.35 L597.30,463.66 L597.50,464.36 L597.71,465.05 L597.91,465.75 L598.11,466.45 L598.31,467.14 L598.51,467.84 L598.71,468.54 L598.91,469.23 L599.11,469.93 L599.31,470.63 L599.51,471.32 L599.72,472.02 L599.92,472.15 L600.12,472.15 L600.32,472.15 L600.52,472.15 L600.72,472.15 L600.92,472.15 L601.12,472.15 L601.32,472.15 L601.52,472.15 L601.73,472.15 L601.93,471.65 L602.13,470.95 L602.33,470.26 L602.53,469.56 L602.73,468.86 L602.93,468.17 L603.13,467.47 L603.33,466.77 L603.53,466.08 L603.74,465.38 L603.94,464.68 L604.14,463.99 L604.34,463.35 L604.54,463.35 L604.74,463.35 L604.94,463.35 L605.14,463.35 L605.34,463.35 L605.54,463.35 L605.75,463.35 L605.95,463.35 L606.15,463.35 L606.35,463.35 L606.55,464.04 L606.75,464.74 L606.95,465.43 L607.15,466.13 L607.35,466.83 L607.56,467.52 L607.76,468.22 L607.96,468.92 L608.16,469.61 L608.36,470.31 L608.56,471.01 L608.76,471.70 L608.96,472.15 L609.16,472.15 L609.36,472.15 L609.57,472.15 L609.77,472.15 L609.97,472.15 L610.17,472.15 L610.37,472.15 L610.57,472.15 L610.77,472.15 L610.97,471.97 L611.17,471.27 L611.37,470.57 L611.58,469.88 L611.78,469.18 L611.98,468.48 L612.18,467.79 L612.38,467.09 L612.58,466.39 L612.78,465.70 L612.98,465.00 L613.18,464.30 L613.38,463.61 L613.59,463.35 L613.79,463.35 L613.99,463.35 L614.19,463.35 L614.39,463.35 L614.59,463.35 L614.79,463.35 L614.99,463.35 L615.19,463.35 L615.39,463.35 L615.60,463.72 L615.80,464.42 L616.00,465.12 L616.20,465.81 L616.40,466.51 L616.60,467.21" fill="none" stroke="#ff0000" stroke-width="2.2" stroke-linejoin="round"/>
<path d="M596.50,472.15 L596.70,472.15 L596.90,472.15 L597.10,472.15 L597.30,471.84 L597.50,471.14 L597.71,470.45 L597.91,469.75 L598.11,469.05 L598.31,468.36 L598.51,467.66 L598.71,466.96 L598.91,466.27 L599.11,465.57 L599.31,464.87 L599.51,464.18 L599.72,463.48 L599.92,463.35 L600.12,463.35 L600.32,463.35 L600.52,463.35 L600.72,463.35 L600.92,463.35 L601.12,463.35 L601.32,463.35 L601.52,463.35 L601.73,463.35 L601.93,463.85 L602.13,464.55 L602.33,465.24 L602.53,465.94 L602.73,466.64 L602.93,467.33 L603.13,468.03 L603.33,468.73 L603.53,469.42 L603.74,470.12 L603.94,470.82 L604.14,471.51 L604.34,472.15 L604.54,472.15 L604.74,472.15 L604.94,472.15 L605.14,472.15 L605.34,472.15 L605.54,472.15 L605.75,472.15 L605.95,472.15 L606.15,472.15 L606.35,472.15 L606.55,471.46 L606.75,470.76 L606.95,470.07 L607.15,469.37 L607.35,468.67 L607.56,467.98 L607.76,467.28 L607.96,466.58 L608.16,465.89 L608.36,465.19 L608.56,464.49 L608.76,463.80 L608.96,463.35 L609.16,463.35 L609.36,463.35 L609.57,463.35 L609.77,463.35 L609.97,463.35 L610.17,463.35 L610.37,463.35 L610.57,463.35 L610.77,463.35 L610.97,463.53 L611.17,464.23 L611.37,464.93 L611.58,465.62 L611.78,466.32 L611.98,467.02 L612.18,467.71 L612.38,468.41 L612.58,469.11 L612.78,469.80 L612.98,470.50 L613.18,471.20 L613.38,471.89 L613.59,472.15 L613.79,472.15 L613.99,472.15 L614.19,472.15 L614.39,472.15 L614.59,472.15 L614.79,472.15 L614.99,472.15 L615.19,472.15 L615.39,472.15 L615.60,471.78 L615.80,471.08 L616.00,470.38 L616.20,469.69 L616.40,468.99 L616.60,468.29" fill="none" stroke="#3f7fd6" stroke-width="2.4" stroke-linejoin="round"/>
<polygon points="584.8,458.45 596.2,463.25 596.2,472.25 584.8,477.05" fill="#c3d69b" stroke="#000" stroke-width="2.4" stroke-linejoin="miter"/>
<text y="471.4" font-weight="bold" fill="#000"><tspan x="616.8" font-size="9.3" font-family='"DejaVu Sans","Liberation Sans",sans-serif' textLength="36.2" lengthAdjust="spacingAndGlyphs">4-20mA</tspan><tspan x="653.4" font-size="9.6" font-family='"Liberation Sans","Noto Sans CJK SC",sans-serif' textLength="19" lengthAdjust="spacingAndGlyphs">三线</tspan><tspan x="673.0" font-size="9.2" font-weight="normal" font-family='"Liberation Sans","Noto Sans CJK SC",sans-serif'>(</tspan><tspan x="677.6" font-size="9.2" font-weight="500" font-family='"Liberation Sans","Noto Sans CJK SC",sans-serif' textLength="17.8" lengthAdjust="spacingAndGlyphs">可选</tspan><tspan x="698.2" font-size="9.2" font-weight="normal" font-family='"Liberation Sans","Noto Sans CJK SC",sans-serif'>)</tspan></text>
<line x1="425" y1="506.2" x2="441" y2="506.2" stroke="#000" stroke-width="2.0" />
<rect x="441.2" y="494.2" width="153.4" height="23.6" fill="#bbadd1" stroke="#000" stroke-width="2.5" />
<polygon points="450.0,496.2 464.4,503.2 464.4,508.6 450.0,515.6" fill="#bbadd1" stroke="#000" stroke-width="2.2" stroke-linejoin="miter"/>
<path d="M464.5,509.2 L465.62,509.2 L465.62,503.8 L469.34,503.8 L469.34,509.2 L471.93,509.2 L471.93,503.8 L475.64,503.8 L475.64,509.2 L478.24,509.2 L478.24,503.8 L481.95,503.8 L481.95,509.2 L484.55,509.2 L484.55,503.8 L488.26,503.8 L488.26,509.2 L490.86,509.2 L490.86,503.8 L494.57,503.8 L494.57,509.2 L497.16,509.2 L497.16,503.8 L500.88,503.8 L500.88,509.2 L502,509.2" fill="none" stroke="#000" stroke-width="2.3" stroke-linejoin="miter"/>
<text y="510.3" font-size="9.1" font-weight="500" stroke="#000" stroke-width="0.3" font-family='"Liberation Sans","Noto Sans CJK SC",sans-serif'><tspan x="504.8" textLength="54.4" lengthAdjust="spacingAndGlyphs">原始脉冲输出</tspan><tspan x="560.2" font-weight="normal">(</tspan><tspan x="564.6" textLength="19.4" lengthAdjust="spacingAndGlyphs">可选</tspan><tspan x="587.2" font-weight="normal">)</tspan></text>
<rect x="336.8" y="531.0" width="44.0" height="16.8" fill="#bbadd1" stroke="#000" stroke-width="2.1" />
<text x="358.7" y="544.0" font-size="9.8" font-weight="500" text-anchor="middle" font-family='"Liberation Sans","Noto Sans CJK SC",sans-serif' fill="#000" textLength="38" lengthAdjust="spacingAndGlyphs" stroke="#000" stroke-width="0.3">通讯电路</text>
<line x1="381" y1="539.6" x2="443" y2="539.6" stroke="#000" stroke-width="2.0" />
<rect x="442.8" y="530.2" width="71.4" height="18.0" fill="#bbadd1" stroke="#000" stroke-width="2.1" />
<rect x="446.2" y="534.2" width="33.6" height="10.0" fill="#bbadd1" stroke="#000" stroke-width="2.6" />
<text x="463.2" y="541.4" font-size="5.4" font-weight="normal" text-anchor="middle" font-family='"Liberation Sans","Noto Sans CJK SC",sans-serif' fill="#000" textLength="25" lengthAdjust="spacingAndGlyphs">两线制接口</text>
<line x1="480.8" y1="541.1" x2="511.3" y2="541.1" stroke="#000" stroke-width="4.4" />
<text x="496.6" y="538.4" font-size="5.4" font-weight="bold" text-anchor="middle" font-family='"Liberation Sans","Noto Sans CJK SC",sans-serif' fill="#000" textLength="27.4" lengthAdjust="spacingAndGlyphs">HART协议</text>
<text x="111.5" y="453.3" font-size="10.0" font-weight="normal" text-anchor="start" font-family='"Liberation Sans",sans-serif' fill="#000" textLength="27.2" lengthAdjust="spacingAndGlyphs" stroke="#000" stroke-width="0.5">FLOW</text>
<line x1="108" y1="455.7" x2="137.1" y2="455.7" stroke="#000" stroke-width="2.4" />
<polygon points="139.6,455.7 136.1,453.5 136.1,457.9" fill="#000"/>
<rect x="150.0" y="446.4" width="52.0" height="19.8" fill="#bfbfbf" stroke="#000" stroke-width="2.4" />
<rect x="146.0" y="441.8" width="4.3" height="28.1" fill="#222" stroke="#000" stroke-width="1.0" />
<rect x="201.7" y="441.8" width="4.4" height="28.1" fill="#222" stroke="#000" stroke-width="1.0" />
<path d="M171.65,449.21 A8.6,8.6 0 1 1 174.18,463.57" fill="none" stroke="#000" stroke-width="2.0" stroke-linecap="round"/>
<polygon points="171.06,462.86 175.17,461.45 175.03,465.70" fill="#000"/>
<path d="M175.38,457.45 Q177.33,453.55 175.38,450.95 Q173.43,453.55 175.38,457.45Z" fill="#000" stroke="#000" stroke-width="1.70" stroke-linejoin="round"/>
<path d="M175.38,457.45 Q178.09,460.87 181.27,460.20 Q179.74,457.34 175.38,457.45Z" fill="#000" stroke="#000" stroke-width="1.70" stroke-linejoin="round"/>
<path d="M175.38,457.45 Q171.02,457.34 169.49,460.20 Q172.67,460.87 175.38,457.45Z" fill="#000" stroke="#000" stroke-width="1.70" stroke-linejoin="round"/>
</svg>
</body>
</html>
